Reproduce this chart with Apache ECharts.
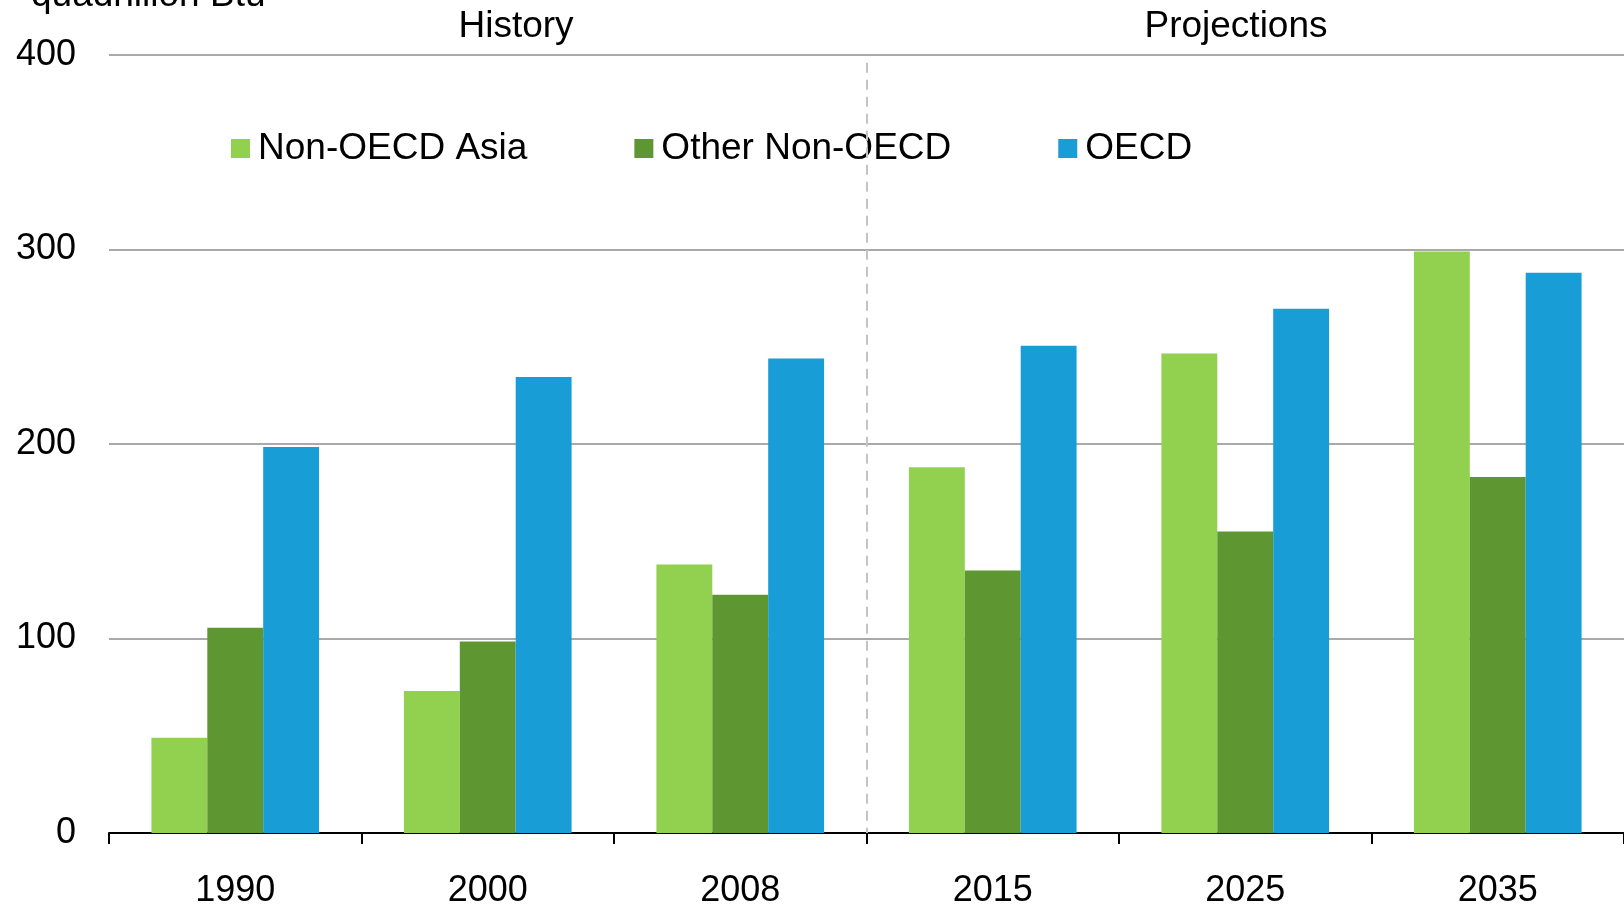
<!DOCTYPE html>
<html>
<head>
<meta charset="utf-8">
<script src="https://cdn.jsdelivr.net/npm/echarts@6/dist/echarts.min.js"></script>
<style>
  html, body { margin: 0; padding: 0; background: #fff; }
  #chart { width: 1624px; height: 909px; }
</style>
</head>
<body>
<div id="chart"></div>
<script>
const years = ["1990", "2000", "2008", "2015", "2025", "2035"];
const nonOecdAsia = [49, 73, 138, 188, 246.5, 299];
const otherNonOecd = [105.5, 98.5, 122.5, 135, 155, 183];
const oecd = [198.5, 234.5, 244, 250.5, 269.5, 288];
const yTicks = { min: 0, max: 400, interval: 100 };
// history / projections split sits on the boundary before the 4th category
const splitAt = 3;

const chart = echarts.init(document.getElementById("chart"));
const font = "Liberation Sans, Arial, sans-serif";

const option = {
  animation: false,
  textStyle: { fontFamily: font },
  grid: { left: 109, right: 0, top: 55, bottom: 72 },
  legend: {
    left: 226,
    top: 125,
    itemWidth: 19,
    itemHeight: 19,
    itemGap: 107,
    icon: "rect",
    textStyle: { fontSize: 37, color: "#000", fontFamily: font, padding: [0, 0, 0, 3] },
    data: ["Non-OECD Asia", "Other Non-OECD", "OECD"]
  },
  graphic: [
    {
      type: "text", left: 31, top: -23,
      style: { text: "quadrillion Btu", fontSize: 37, fill: "#000", fontFamily: font }
    },
    {
      type: "text", x: 516, y: 27,
      style: { text: "History", fontSize: 37, fill: "#000", fontFamily: font, align: "center", verticalAlign: "middle" }
    },
    {
      type: "text", x: 1236, y: 27,
      style: { text: "Projections", fontSize: 37, fill: "#000", fontFamily: font, align: "center", verticalAlign: "middle" }
    }
  ],
  xAxis: [
    {
      type: "category",
      data: years,
      axisLine: { lineStyle: { color: "#000", width: 2 } },
      axisTick: { show: true, length: 11, lineStyle: { color: "#000", width: 2 } },
      axisLabel: { fontSize: 36, color: "#000", margin: 40, fontFamily: font }
    },
    {
      // hidden helper axis for the dashed divider
      type: "value",
      min: 0,
      max: years.length,
      show: false
    }
  ],
  yAxis: {
    type: "value",
    min: yTicks.min,
    max: yTicks.max,
    interval: yTicks.interval,
    axisLine: { show: false },
    axisTick: { show: false },
    axisLabel: { fontSize: 36, color: "#000", margin: 33, fontFamily: font },
    splitLine: { lineStyle: { color: "#a9a9a9", width: 2 } }
  },
  series: [
    {
      name: "Non-OECD Asia", type: "bar", data: nonOecdAsia,
      barGap: "0%", barCategoryGap: "33.6%",
      itemStyle: { color: "#92d050" }
    },
    {
      name: "Other Non-OECD", type: "bar", data: otherNonOecd,
      barGap: "0%", barCategoryGap: "33.6%",
      itemStyle: { color: "#5e9732" }
    },
    {
      name: "OECD", type: "bar", data: oecd,
      barGap: "0%", barCategoryGap: "33.6%",
      itemStyle: { color: "#189dd7" }
    },
    {
      type: "line", xAxisIndex: 1, data: [], silent: true,
      markLine: {
        silent: true,
        symbol: "none",
        label: { show: false },
        lineStyle: { color: "#c4c4c4", width: 2, type: [10, 7] },
        data: [[{ xAxis: splitAt, yAxis: 396 }, { xAxis: splitAt, yAxis: 0 }]]
      }
    }
  ]
};

chart.setOption(option);
</script>
</body>
</html>
